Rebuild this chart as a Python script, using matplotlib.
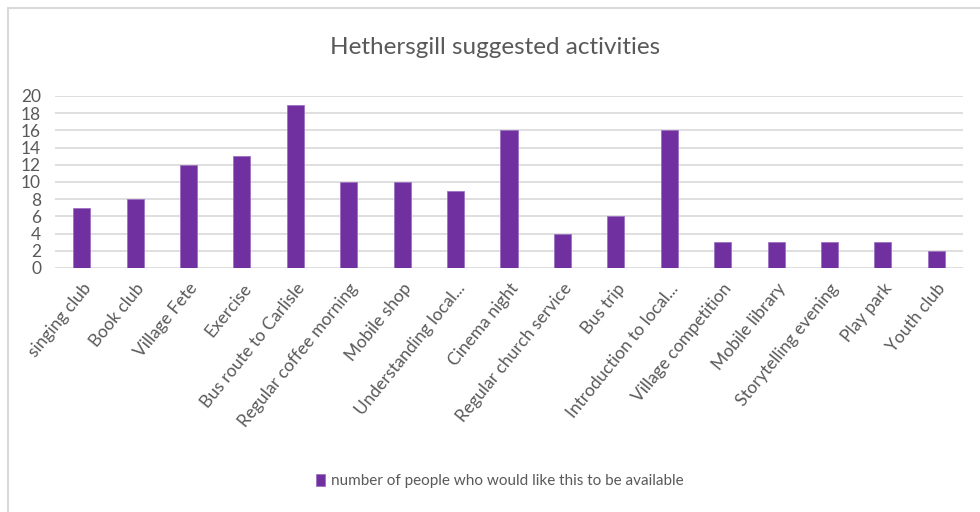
import matplotlib
matplotlib.use("Agg")
import matplotlib.pyplot as plt
from matplotlib.patches import Rectangle

plt.rcParams['font.family'] = ['Lato', 'DejaVu Sans']

categories = [
    "singing club", "Book club", "Village Fete", "Exercise",
    "Bus route to Carlisle", "Regular coffee morning", "Mobile shop",
    "Understanding local...", "Cinema night", "Regular church service",
    "Bus trip", "Introduction to local...", "Village competition",
    "Mobile library", "Storytelling evening", "Play park", "Youth club",
]
counts = [7, 8, 12, 13, 19, 10, 10, 9, 16, 4, 6, 16, 3, 3, 3, 3, 2]
y_ticks = [0, 2, 4, 6, 8, 10, 12, 14, 16, 18, 20]
series_name = "number of people who would like this to be available"
title = "Hethersgill suggested activities"

W, H = 980, 512
fig = plt.figure(figsize=(W / 100, H / 100), dpi=100)
fig.patch.set_facecolor("white")

# chart frame
fig.patches.append(Rectangle((8 / W, -0.1), 1.2, (H - 8) / H + 0.1,
                             transform=fig.transFigure, fill=False,
                             edgecolor="#D9D9D9", linewidth=1.5))

ax = fig.add_axes([55 / W, 1 - 268 / H, (963 - 55) / W, (268 - 96) / H])
x = list(range(len(categories)))
ax.bar(x, counts, width=0.32, color="#7030A0", edgecolor="#9E72C2",
       linewidth=0.6, zorder=3, label=series_name)
ax.set_xlim(-0.5, len(categories) - 0.5)
ax.set_ylim(0, 20)
ax.set_yticks(y_ticks)
ax.set_yticklabels([str(v) for v in y_ticks])
ax.grid(axis="y", color="#D9D9D9", linewidth=1.2, zorder=0)
for s in ax.spines.values():
    s.set_visible(False)
ax.tick_params(axis="both", length=0, colors="#595959", labelsize=12.5)
ax.tick_params(axis="y", pad=10)
ax.set_xticks(x)
ax.set_xticklabels(categories, rotation=51, ha="right", rotation_mode="anchor",
                   fontsize=12.5, color="#595959")
ax.tick_params(axis="x", pad=9)

fig.text(495 / W, 1 - 48 / H, title, ha="center", va="center",
         fontsize=17.5, color="#595959")

leg = fig.legend(loc="center", bbox_to_anchor=(500 / W, 1 - 481 / H),
                 frameon=False, fontsize=11, handlelength=0.6,
                 handleheight=0.9, handletextpad=0.4)
for t in leg.get_texts():
    t.set_color("#595959")

fig.savefig("out.png", dpi=100, facecolor="white")
